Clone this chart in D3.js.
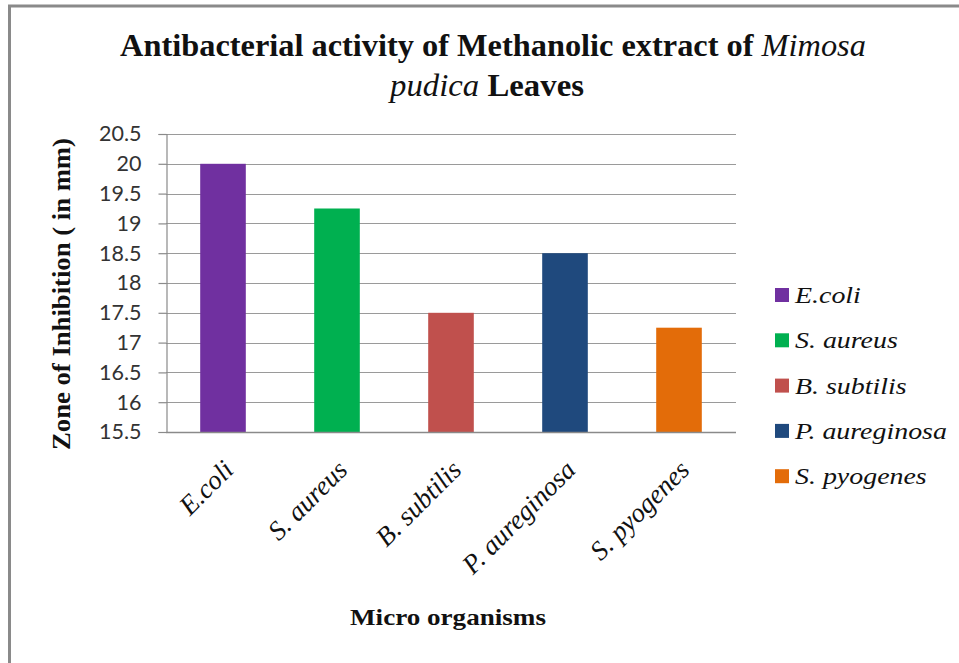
<!DOCTYPE html>
<html><head><meta charset="utf-8">
<script src="https://cdn.jsdelivr.net/npm/d3@7"></script>
<style>body{margin:0;background:#fff;}svg{display:block;}</style>
</head><body>
<svg id="c" width="959" height="663"></svg>
<script>
const categories = ["E.coli", "S. aureus", "B. subtilis", "P. aureginosa", "S. pyogenes"];
const values = [20, 19.25, 17.5, 18.5, 17.25];
const colors = ["#7030A0", "#00B050", "#C0504D", "#1F497D", "#E36C09"];
const yTicks = [15.5, 16, 16.5, 17, 17.5, 18, 18.5, 19, 19.5, 20, 20.5];

const svg = d3.select("#c");
const m = {left: 166, right: 736, top: 134, bottom: 432};
const serif = "'Liberation Serif', 'Times New Roman', serif";

// frame
svg.append("path").attr("d", "M9.5,700 V6 H970").attr("fill", "none").attr("stroke", "#8a8a8a").attr("stroke-width", 3);

const x = d3.scaleBand().domain(categories).range([m.left, m.right]).paddingInner(0.6).paddingOuter(0.3);
const y = d3.scaleLinear().domain([15.5, 20.5]).range([m.bottom, m.top]);

// gridlines
svg.append("g").selectAll("line").data(yTicks.slice(1)).join("line")
  .attr("x1", m.left).attr("x2", m.right)
  .attr("y1", d => Math.round(y(d)) + 0.5).attr("y2", d => Math.round(y(d)) + 0.5)
  .attr("stroke", "#9a9a9a").attr("stroke-width", 1.2);

// bars
svg.append("g").selectAll("rect").data(values).join("rect")
  .attr("x", (d, i) => x(categories[i])).attr("width", x.bandwidth())
  .attr("y", d => y(d)).attr("height", d => y(15.5) - y(d))
  .attr("fill", (d, i) => colors[i]);

// y axis
const yAxis = d3.axisLeft(y).tickValues(yTicks).tickSize(8).tickPadding(17).tickFormat(d => d);
const gy = svg.append("g").attr("transform", `translate(${m.left + 0.5},0)`).call(yAxis);
gy.select(".domain").attr("stroke", "#8a8a8a").attr("stroke-width", 1.2);
gy.selectAll(".tick line").attr("stroke", "#8a8a8a").attr("stroke-width", 1.2);
gy.selectAll(".tick text").attr("font-family", "Lato, 'Open Sans', sans-serif").attr("font-size", 21.5).attr("fill", "#333");

// x axis
const xAxis = d3.axisBottom(x).tickSize(0).tickPadding(0);
const gx = svg.append("g").attr("transform", `translate(0,${m.bottom + 0.5})`).call(xAxis);
gx.select(".domain").attr("stroke", "#8a8a8a").attr("stroke-width", 1.5).attr("d", `M${m.left},0H${m.right}`);
gx.selectAll(".tick text")
  .attr("font-family", serif).attr("font-style", "italic")
  .attr("font-size", 27).attr("fill", "#111")
  .attr("text-anchor", "end").attr("dy", null).attr("y", 0)
  .attr("transform", "translate(12,39) rotate(-45)");

function fitText(sel, cx, targetW) {
  const w = sel.node().getComputedTextLength();
  const s = targetW / w;
  sel.attr("text-anchor", "middle").attr("transform", `translate(${cx},0) scale(${s},1)`).attr("x", 0);
}

// title
const title = svg.append("g").attr("font-family", serif)
  .attr("font-weight", "bold").attr("font-size", 32).attr("fill", "#111");
const t1 = title.append("text").attr("y", 56);
t1.append("tspan").text("Antibacterial activity of Methanolic extract of ");
t1.append("tspan").attr("font-style", "italic").attr("font-weight", "normal").text("Mimosa");
fitText(t1, 493, 746);
const t2 = title.append("text").attr("y", 96);
t2.append("tspan").attr("font-style", "italic").attr("font-weight", "normal").text("pudica");
t2.append("tspan").text(" Leaves");
fitText(t2, 487, 194);

// y axis title
const yt = svg.append("text").attr("font-family", serif)
  .attr("font-weight", "bold").attr("font-size", 25).attr("fill", "#111")
  .text("Zone of Inhibition ( in mm)");
{
  const w = yt.node().getComputedTextLength();
  const s = 312 / w;
  yt.attr("text-anchor", "middle").attr("transform", `translate(70,294) rotate(-90) scale(${s},1)`);
}

// x axis title
const xt = svg.append("text").attr("font-family", serif)
  .attr("font-weight", "bold").attr("font-size", 24).attr("fill", "#111")
  .attr("y", 625).text("Micro organisms");
fitText(xt, 448, 196);

// legend
const lg = svg.append("g").selectAll("g").data(categories).join("g")
  .attr("transform", (d, i) => `translate(775,${295 + i * 45.3})`);
lg.append("rect").attr("x", 0).attr("y", -7).attr("width", 14).attr("height", 14).attr("fill", (d, i) => colors[i]);
const lt = lg.append("text").attr("y", 8)
  .attr("font-family", serif).attr("font-style", "italic")
  .attr("font-size", 24).attr("fill", "#111").text(d => d);
{
  const w = lt.filter((d, i) => i === 3).node().getComputedTextLength();
  const s = 152 / w;
  lt.attr("transform", `translate(20,0) scale(${s},1)`);
}
</script>
</body></html>
